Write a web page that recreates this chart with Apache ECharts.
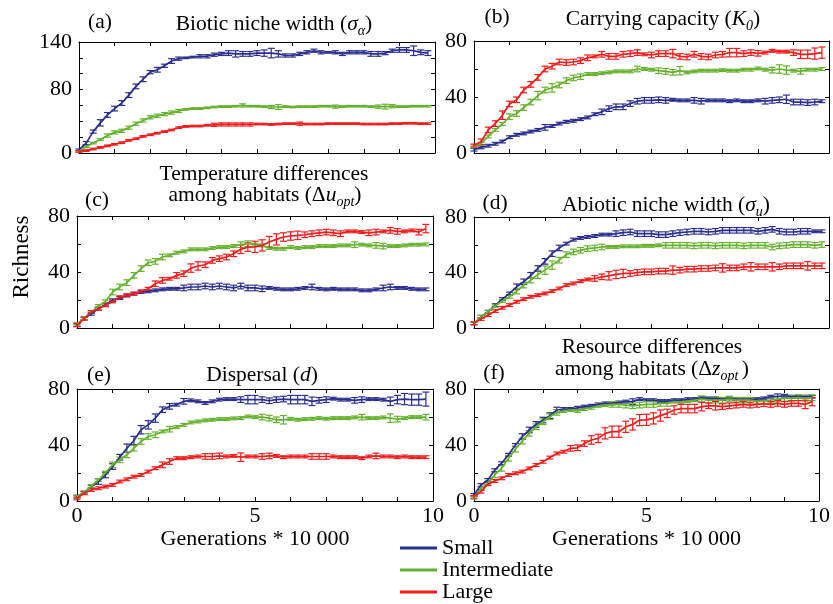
<!DOCTYPE html>
<html>
<head>
<meta charset="utf-8">
<script src="https://cdn.jsdelivr.net/npm/echarts@6/dist/echarts.min.js"></script>
<style>
html, body { margin: 0; padding: 0; background: #fff; }
#main { width: 833px; height: 604px; }
</style>
</head>
<body>
<div id="main"></div>
<script>
// generations (x 10 000)
var gens = [0,0.2,0.4,0.6,0.8,1,1.2,1.4,1.6,1.8,2,2.2,2.4,2.6,2.8,3,3.2,3.4,3.6,3.8,4,4.2,4.4,4.6,4.8,5,5.2,5.4,5.6,5.8,6,6.2,6.4,6.6,6.8,7,7.2,7.4,7.6,7.8,8,8.2,8.4,8.6,8.8,9,9.2,9.4,9.6,9.8];
var xTickLabels = [0, 5, 10];
var yTickLabelsA = [0, 80, 140];
var yTickLabels = [0, 40, 80];
var names = ['Small', 'Intermediate', 'Large'];

// (a) biotic niche width
var aSmall = [4,12.5,27,38,48,56,63,73,84,93,102,105,110,116,119,120,121,122,122,124,125,126,125,125,125,126,126,126,125,123,123,125,127,129,127,127,127,125,127,127,127,125,125,126,129,130,130,129,127,126];
var aSmallErr = [1,2,2,4,3,3,3,3,3,3,2,3,2,3,2,1,1,2,2,2,2,3,4,3,3,3,4,6,4,2,2,2,2,2,2,1,2,2,2,2,2,3,3,2,2,3,3,6,3,3];
var aMid = [2,8,12.5,17,22,26,28,32,37,41,45,47,49,51,53,55,56,56,57,58,58.5,58.5,59,60,59,59,58.5,58,58,58.5,58,58.5,58.5,58.5,59,59,58.5,58.5,59,59,59,58.5,58.5,58.5,59,58.5,58.5,59,59,59];
var aMidErr = [1,1,1,1,2,2,2,2,2,2,2,2,2,2,2,1,1,1,1,1,1,1,1,2,1,1,1,2,3,1,1,1,1,1,1,1,2,1,1,1,1,1,2,3,2,1,1,1,1,1];
var aLarge = [2,3,5,7,9,11,13,16,18,21,23,25,27,29,32,33.5,34,34,35,35.5,36,36,36,36,36,36.5,36.5,36,36.5,37,37,37,36.5,36.5,36.5,37,37,37,37,37,36.5,36.5,36.5,36.5,37,37,37.5,37.5,37,37];
var aLargeErr = [1,1,1,1,1,1,1,1,1,1,1,1,1,1,1,1,1,1,1,2,2,2,2,2,2,1,1,1,1,1,1,2,1,1,1,1,1,1,1,1,1,1,1,1,1,1,1,1,1,1];

// (b) carrying capacity
var bSmall = [2.4,4,5.2,6.6,8.2,11.3,13,14,15.3,16.5,18.3,19.3,21,22.3,23,24.2,25.4,27.7,29.4,31.7,33,33,35.3,37,37.6,37.6,38,37.6,38,37.6,37.6,37.6,37,37.6,37.6,37.6,37,37.6,37,37,37.6,37,37.6,38,38.4,36.4,36.4,36,36.4,37];
var bSmallErr = [1,1,1,1,1,1,1,1,1,1,2,1,1,1,1,1,1,1,2,2,2,2,2,2,2,2,2,2,1,1,1,2,2,1,1,1,1,1,1,1,1,2,2,2,3,2,2,2,2,1];
var bMid = [4.7,6.6,11.8,16.5,20.7,25.9,28.2,32.4,36.4,41,45,46.5,48.6,51.7,53.6,54.5,56.4,56.4,57,57.6,58.3,58.3,58.3,60,60,59.5,58.8,58.3,57.6,58.8,57.6,58.3,58.8,58.8,58.8,59.2,58.8,58.8,59.5,59.5,60.4,59.5,59.2,60,59.2,58.8,58.3,59.5,59.5,60];
var bMidErr = [1,1,1,1,1,2,2,2,2,3,2,3,2,2,2,2,1,1,1,1,1,1,1,2,1,1,2,2,2,3,1,1,1,1,1,1,1,1,1,1,1,1,2,3,3,1,2,1,1,1];
var bLarge = [5.4,8,16.5,21,27,35,38,45,49,54,60,62,65,64.6,65,66,68,69,70.5,69,69,70.5,71,71.7,70.5,70,71,71,71,69,68.6,70.5,69,68.6,70,70.5,71.7,71.7,71,71.7,71.2,71.7,73,72.4,72.4,71.7,70.5,70.5,71,71.7];
var bLargeErr = [1,2,2,2,3,2,2,2,2,2,2,2,2,2,2,2,2,1,2,2,2,2,2,2,1,2,2,2,3,2,2,2,2,2,2,2,3,3,2,2,2,1,1,1,1,2,3,3,4,4];

// (c) temperature differences among habitats
var cSmall = [2,6.7,10.2,13.8,16.7,19.8,21.4,23.3,24.5,25.7,26.2,26.9,27.6,28,28,28.6,29.3,29.3,30,29.3,30,29.3,28.6,30,28.6,28.6,28,28.6,28,27.6,27.6,28,28.6,29.3,28,27.6,28,27.6,27.6,27.6,26.9,26.9,27.6,28.6,29.3,28.6,28.6,28,27.6,27.6];
var cSmallErr = [1,1,1,1,1,1,1,1,1,1,1,1,1,1,1,2,2,2,2,2,2,2,2,2,2,2,2,1,1,1,1,1,1,2,1,1,1,1,1,1,1,1,1,2,2,1,1,1,1,1];
var cMid = [3,7,11.4,15.7,19,25.7,29.3,32.4,37.6,42.4,46.6,47.6,50.7,51.9,53.8,54.7,56.2,56.2,56.2,57.1,57.8,57.8,58.5,59.5,60.2,59.5,59,57.1,56.6,56.6,57.8,57.1,57.8,57.8,58.5,58.5,58.5,59,59,59.5,59.5,59,59,58.5,58.5,58.5,59,59.5,59.5,59.7];
var cMidErr = [1,1,1,1,1,2,2,2,2,2,2,2,2,1,1,1,1,1,1,1,1,1,1,2,2,1,1,1,1,1,1,1,1,1,1,1,1,1,1,2,1,1,2,2,1,1,1,1,1,1];
var cLarge = [2,6.7,11.4,13.8,16.2,19,22,23.3,24.5,26.2,28,31.6,34,35.2,37.6,38.8,42.8,44.3,45.2,48.3,49.5,50.7,53,56.2,57.8,58,59,61.4,63.3,65,65.7,66.2,66.6,67.4,68,68.5,68,67.4,69,69,68.5,68,68.5,69,69.7,69,69,69.7,68.5,71];
var cLargeErr = [1,1,1,1,1,1,1,1,1,1,1,2,2,1,2,2,3,3,2,2,2,2,2,3,3,4,4,4,4,3,3,3,2,2,2,2,2,2,1,1,1,2,2,1,2,2,1,1,2,3];

// (d) abiotic niche width
var dSmall = [3.4,8.1,11.7,16.5,20.8,24.9,29.7,33.3,38,42.9,48,53.6,57.7,60.8,63.7,64.9,65.6,66.3,67.3,67.3,68,68.7,69.2,68,68,68,67.3,67.3,68,68.7,69.2,69.7,69.7,69.2,69.7,70.4,70.4,70.4,70.4,70.4,69.7,70.4,71.1,69.7,69.2,69.2,69.7,69.7,69.7,69.7];
var dSmallErr = [1,1,1,1,1,1,2,2,2,2,2,2,2,1,1,1,1,1,1,1,2,2,2,2,2,2,2,2,2,2,2,2,2,2,2,2,2,2,2,2,2,2,2,2,2,2,2,2,1,1];
var dMid = [3.4,8.1,11.7,16,19.4,22.5,26.6,30.9,34.5,38.6,41.7,45.3,48.9,52.9,54.8,56,57.2,57.7,58.4,58.4,58.4,58.9,58.9,58.9,59.2,59.2,59.6,59.6,59.6,59.6,59.6,59.2,59.6,59.6,59.2,59.6,59.6,59.6,59.2,59.6,59.6,59.6,58.4,59.2,59.6,60.1,60.1,60.1,59.6,60.1];
var dMidErr = [1,1,1,1,1,1,2,2,2,3,3,3,2,2,2,2,2,2,2,1,1,1,1,1,1,1,1,2,2,2,2,2,2,2,2,2,2,2,2,2,2,2,2,2,2,2,2,2,2,2];
var dLarge = [3.4,6.5,9.3,12.2,14.6,16.5,18.9,20.8,22.5,23.7,24.9,26.6,28.5,30.9,32.1,33.8,35,35.7,36.9,37.6,38.6,39.3,39.3,40,40.5,40.5,41,41,41.7,41.7,42.4,42.4,42.9,42.9,43.3,43.3,43.3,43.3,44.1,44.1,44.1,44.1,44.1,44.1,44.8,44.8,44.8,44.8,44.8,44.8];
var dLargeErr = [1,1,1,1,1,1,1,1,1,1,1,1,1,1,1,1,1,2,2,3,3,3,2,2,2,2,2,2,3,2,2,2,2,2,2,3,2,2,2,3,2,2,3,2,2,2,2,3,2,2];

// (e) dispersal
var eSmall = [3.1,6,10.3,13.9,18.6,24.6,31.3,37.7,43.2,50.9,54.4,59.2,65.2,67.6,68.8,71.2,71.9,71.2,70,71.2,72.4,72.8,72.8,72.4,72.4,72.4,72.4,71.6,72.4,72.8,72.4,72.4,72.4,71.2,71.9,72.4,73.1,72.4,72.4,71.9,72.4,72.8,72.8,72.4,71.2,72.4,72.8,72.4,72.4,72.8];
var eSmallErr = [1,1,1,2,2,2,2,3,3,3,3,3,2,2,1,2,1,1,1,1,1,1,1,2,3,3,2,2,2,2,3,3,3,3,2,2,1,1,1,2,2,1,1,1,3,3,4,4,4,5];
var eMid = [3.1,6,10.7,15,20.3,25.8,29.4,33,37.7,42.5,46.1,47.3,49.7,51.3,52.8,54.4,56.1,56.8,57.6,58,58.5,58.5,59,59.2,60.4,59.9,59.9,59.2,58,58,58.7,58,58.5,58.7,59.2,58.7,59.2,59.2,59.2,59.7,59.9,59.2,59.2,59.7,59.2,58.5,59.2,59.9,59.9,59.9];
var eMidErr = [1,1,1,1,1,2,2,2,2,2,2,2,1,2,1,1,1,1,1,1,1,1,1,1,1,1,2,2,2,3,1,1,1,1,1,1,1,1,1,1,2,1,1,1,3,2,1,1,1,2];
var eLarge = [1.9,5.5,7.9,9.1,10.3,11.5,13.9,15.5,17.4,18.6,21,23.4,25.8,28.2,30.6,30.6,31.3,31.8,31.8,31.8,32.2,31.8,32.2,31.3,31.8,31.8,31.8,32.2,32.2,31.3,31.8,31.8,31.8,31.8,31.8,31.8,31.8,31.3,31.3,31.3,30.6,31.8,32.2,31.8,31.8,31.3,31.8,31.3,31.3,31.3];
var eLargeErr = [1,1,1,1,1,1,1,1,1,1,1,1,2,2,1,1,1,1,2,2,2,1,1,3,1,1,2,2,1,1,1,1,1,2,2,2,1,1,1,1,1,1,2,1,1,1,1,1,1,1];

// (f) resource differences among habitats
var fSmall = [4.3,11.4,15,22,27,33,40,46,50.7,54.7,57.8,61,65,65.7,65.7,66.6,67.4,68,69,69.7,69.7,70.4,71,71,72.8,72,72,71.4,71.4,72,72,72.8,72.8,73.8,73.3,73.3,72.8,73.3,72.8,72.8,72.8,72.8,73.3,74.5,74.5,75.2,74.5,74.5,74.5,74.5];
var fSmallErr = [1,1,1,1,1,1,1,2,2,2,2,2,2,1,1,1,1,1,1,1,1,1,1,2,1,1,1,1,1,1,1,1,1,1,1,1,1,1,1,1,1,1,1,1,2,1,1,1,1,1];
var fMid = [2.4,9,12.6,18.6,23.3,30.5,37,42.8,48.3,53,56.6,60.2,63.3,64.3,65,64.3,65.7,66.6,68,68.5,69,69,68.5,68,68.5,69,69,69.7,69.7,71,70.4,71.4,72,72.8,72,72,72,72.8,72,72,72,71.4,71.4,72,72.8,73.3,73.3,73.8,73.3,73.8];
var fMidErr = [1,1,1,2,2,2,2,2,2,2,2,2,2,1,1,1,1,1,1,1,2,2,2,2,2,2,2,2,2,1,1,1,1,2,2,2,2,2,2,2,2,2,2,2,2,2,2,2,2,2];
var fLarge = [3,6.7,12,14.3,16.2,18.6,19.8,21,23.3,25.7,28,31,34,35.2,37.6,38,41,43.6,44.7,48.3,49.5,49.5,53,54.7,57.8,58,59,61,62.6,65,66,66,66,67.4,68,68,67.4,68,68.5,69,68.5,69,69.5,69,69.7,69,69.7,69.7,69,71];
var fLargeErr = [1,1,1,1,1,1,1,1,1,1,1,1,1,1,2,2,2,3,3,4,4,4,4,4,4,4,4,4,3,3,3,3,3,3,2,3,2,2,2,2,2,2,2,2,2,2,2,2,3,3];

var FONT = 'Liberation Serif';
var colors = ['#2b2f8e', '#66b22e', '#f21c1c'];

var gridPos = [
    { left: 79, top: 42, width: 356, height: 111 },
    { left: 474, top: 41, width: 355, height: 112 },
    { left: 77, top: 216, width: 356, height: 112 },
    { left: 474, top: 217, width: 355, height: 111 },
    { left: 77, top: 389, width: 356, height: 112 },
    { left: 474, top: 389, width: 355, height: 112 }
];

var panels = [
    { ymax: 140, yLabels: yTickLabelsA, xLab: false, sets: [[aSmall, aSmallErr], [aMid, aMidErr], [aLarge, aLargeErr]] },
    { ymax: 80, yLabels: yTickLabels, xLab: false, sets: [[bSmall, bSmallErr], [bMid, bMidErr], [bLarge, bLargeErr]] },
    { ymax: 80, yLabels: yTickLabels, xLab: false, sets: [[cSmall, cSmallErr], [cMid, cMidErr], [cLarge, cLargeErr]] },
    { ymax: 80, yLabels: yTickLabels, xLab: false, sets: [[dSmall, dSmallErr], [dMid, dMidErr], [dLarge, dLargeErr]] },
    { ymax: 80, yLabels: yTickLabels, xLab: true, sets: [[eSmall, eSmallErr], [eMid, eMidErr], [eLarge, eLargeErr]] },
    { ymax: 80, yLabels: yTickLabels, xLab: true, sets: [[fSmall, fSmallErr], [fMid, fMidErr], [fLarge, fLargeErr]] }
];

function errorBar(params, api) {
    var x = api.value(0);
    var lo = api.coord([x, api.value(1)]);
    var hi = api.coord([x, api.value(2)]);
    var w = 3.5;
    var st = { stroke: api.visual('color'), lineWidth: 1.2 };
    return {
        type: 'group',
        children: [
            { type: 'line', shape: { x1: lo[0], y1: lo[1], x2: hi[0], y2: hi[1] }, style: st },
            { type: 'line', shape: { x1: lo[0] - w, y1: lo[1], x2: lo[0] + w, y2: lo[1] }, style: st },
            { type: 'line', shape: { x1: hi[0] - w, y1: hi[1], x2: hi[0] + w, y2: hi[1] }, style: st }
        ]
    };
}

var axisLineStyle = { show: true, onZero: false, lineStyle: { color: '#000', width: 1 } };
var tickStyle = { show: true, inside: true, length: 4, lineStyle: { color: '#000' } };
var labelFont = { fontFamily: FONT, fontSize: 22, color: '#000' };

var grids = [], xAxes = [], yAxes = [], series = [];
panels.forEach(function (p, i) {
    grids.push(gridPos[i]);
    xAxes.push({
        gridIndex: i, type: 'value', min: 0, max: 10, interval: 1, position: 'bottom',
        axisLine: axisLineStyle, axisTick: tickStyle, splitLine: { show: false },
        axisLabel: Object.assign({
            show: p.xLab, margin: 4,
            formatter: function (v) { return xTickLabels.indexOf(v) >= 0 ? String(v) : ''; }
        }, labelFont),
        name: p.xLab ? 'Generations * 10 000' : '',
        nameLocation: 'middle', nameGap: 25,
        nameTextStyle: { fontFamily: FONT, fontSize: 22, color: '#000' }
    });
    xAxes.push({
        gridIndex: i, type: 'value', min: 0, max: 10, interval: 1, position: 'top',
        axisLine: axisLineStyle, axisTick: tickStyle, splitLine: { show: false },
        axisLabel: { show: false }
    });
    yAxes.push({
        gridIndex: i, type: 'value', min: 0, max: p.ymax, interval: 20, position: 'left',
        axisLine: axisLineStyle, axisTick: tickStyle, splitLine: { show: false },
        axisLabel: Object.assign({
            margin: 7,
            formatter: function (v) { return p.yLabels.indexOf(v) >= 0 ? String(v) : ''; }
        }, labelFont)
    });
    yAxes.push({
        gridIndex: i, type: 'value', min: 0, max: p.ymax, interval: 20, position: 'right',
        axisLine: axisLineStyle, axisTick: tickStyle, splitLine: { show: false },
        axisLabel: { show: false }
    });
    p.sets.forEach(function (s, k) {
        var vals = s[0], errs = s[1];
        series.push({
            type: 'line', name: names[k], xAxisIndex: 2 * i, yAxisIndex: 2 * i,
            symbol: 'none', showSymbol: false, silent: true,
            lineStyle: { width: 1.7, color: colors[k] },
            itemStyle: { color: colors[k] },
            data: gens.map(function (g, j) { return [g, vals[j]]; })
        });
        series.push({
            type: 'custom', name: names[k], xAxisIndex: 2 * i, yAxisIndex: 2 * i,
            silent: true, renderItem: errorBar,
            itemStyle: { color: colors[k] },
            encode: { x: 0, y: [1, 2] },
            data: gens.map(function (g, j) { return [g, vals[j] - errs[j], vals[j] + errs[j]]; })
        });
    });
});

var rich = {
    t: { fontFamily: FONT, fontSize: 21.5, fill: '#000' },
    i: { fontFamily: FONT, fontSize: 21.5, fontStyle: 'italic', fill: '#000' },
    s: { fontFamily: FONT, fontSize: 14, fontStyle: 'italic', fill: '#000', padding: [14, 0, 0, 0] }
};

function label(txt, x, y) {
    return {
        type: 'text', x: x, y: y,
        style: { text: txt, rich: rich, align: 'center', verticalAlign: 'middle' }
    };
}

var graphics = [
    label('{t|(a)}', 100, 22),
    label('{t|Biotic niche width (}{i|σ}{s|α}{t|)}', 274, 24),
    label('{t|(b)}', 497, 17),
    label('{t|Carrying capacity (}{i|K}{s|0}{t|)}', 663, 19),
    label('{t|Temperature differences}', 264, 174),
    label('{t|among habitats (Δ}{i|u}{s|opt}{t|)}', 265, 195),
    label('{t|(c)}', 97, 200),
    label('{t|(d)}', 495, 203),
    label('{t|Abiotic niche width (}{i|σ}{s|u}{t|)}', 666, 205),
    label('{t|(e)}', 99, 375),
    label('{t|Dispersal (}{i|d}{t|)}', 262, 375),
    label('{t|Resource differences}', 652, 347),
    label('{t|among habitats (Δ}{i|z}{s|opt }{t|)}', 652, 369),
    label('{t|(f)}', 494, 373),
    {
        type: 'text', x: 22, y: 257, rotation: Math.PI / 2,
        style: { text: 'Richness', fontFamily: FONT, fontSize: 23, fill: '#000', align: 'center', verticalAlign: 'middle' }
    }
];

var myChart = echarts.init(document.getElementById('main'));
var option = {
    animation: false,
    backgroundColor: '#fff',
    grid: grids,
    xAxis: xAxes,
    yAxis: yAxes,
    legend: {
        data: names,
        orient: 'vertical',
        left: 400, top: 537, height: 80, padding: 0,
        icon: 'rect', itemWidth: 37, itemHeight: 3, itemGap: 0,
        selectedMode: false,
        textStyle: { fontFamily: FONT, fontSize: 22, color: '#000', lineHeight: 20 }
    },
    graphic: graphics,
    series: series
};
myChart.setOption(option);
</script>
</body>
</html>
